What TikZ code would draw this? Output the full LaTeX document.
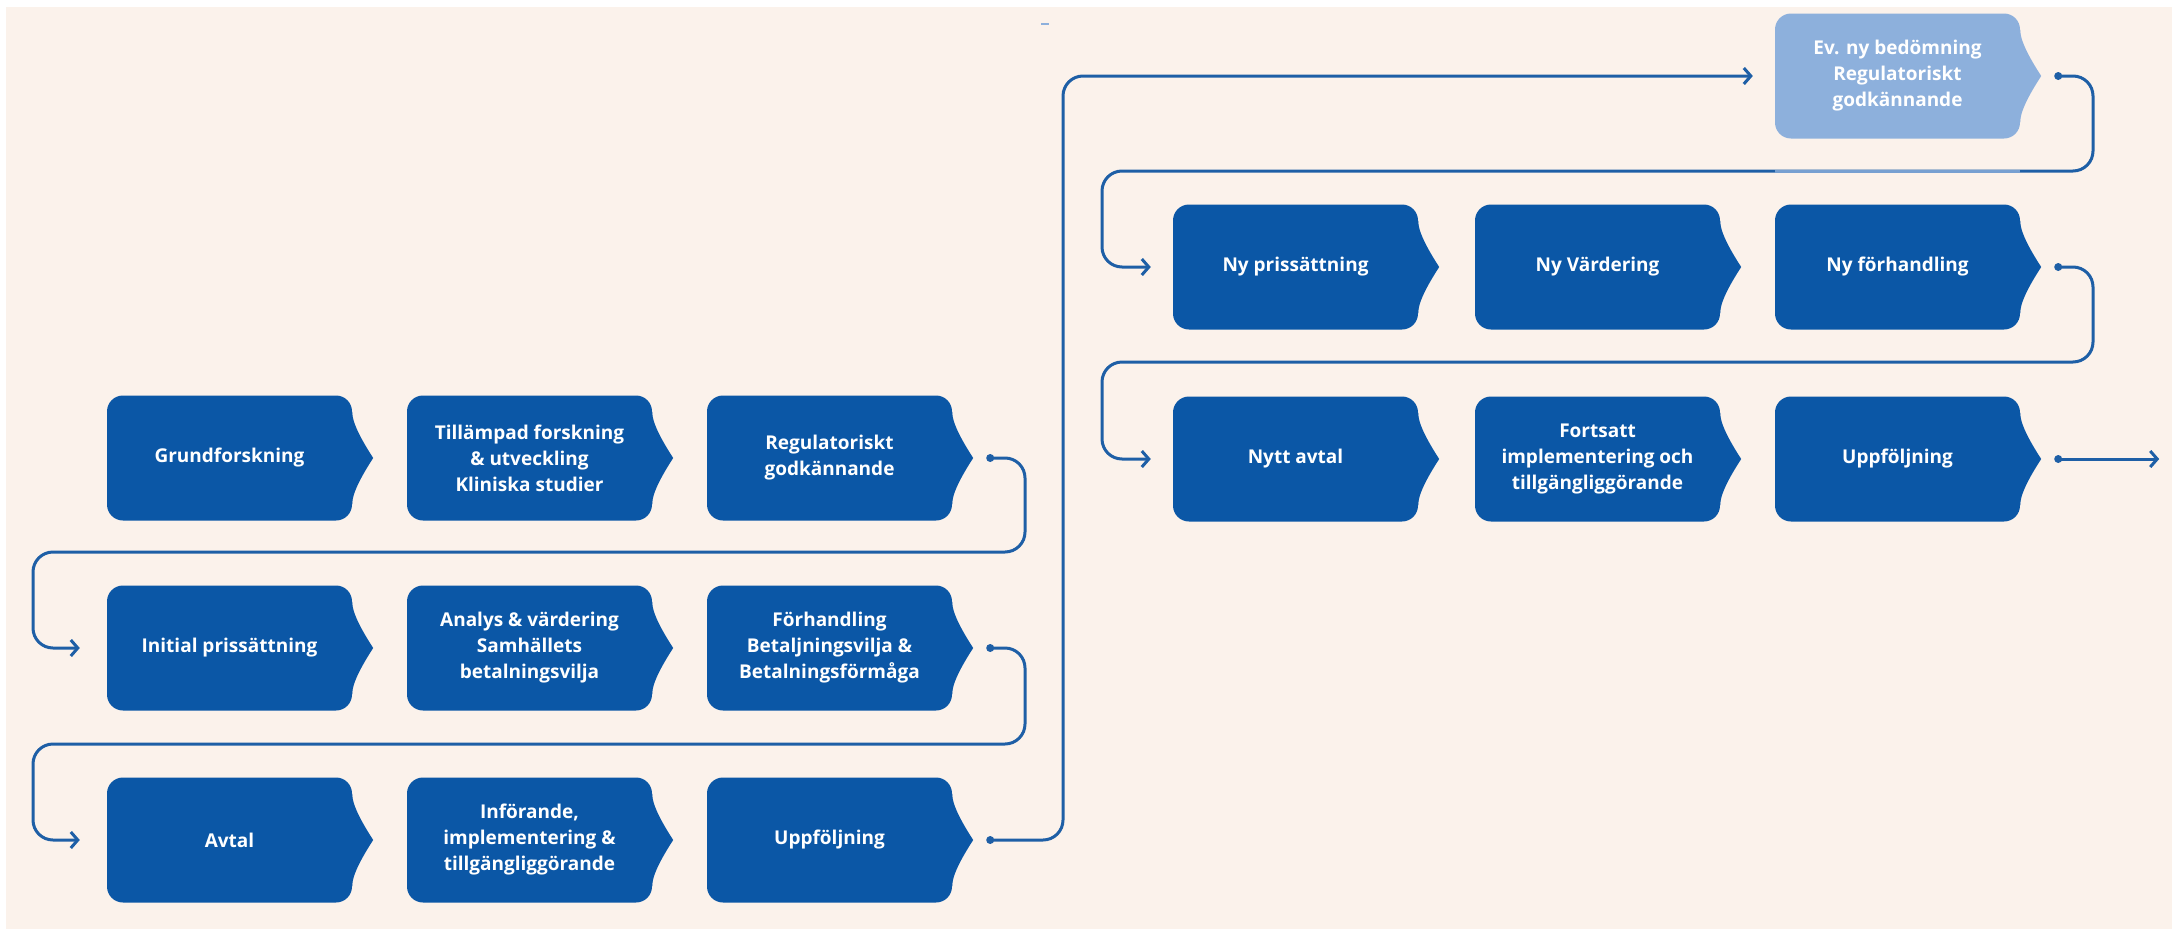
\documentclass[tikz,border=0pt]{standalone}
\usepackage{fontspec}
\setmainfont{Open Sans}
\usetikzlibrary{arrows.meta}
\definecolor{boxblue}{HTML}{0B57A6}
\definecolor{lightbox}{HTML}{8DB0DC}
\definecolor{lineblue}{HTML}{1E5FA6}
\definecolor{cream}{HTML}{FBF2EB}
\newcommand\tipof[2]{%
  \fill[#2] ([xshift=-4pt,yshift=46pt]#1.east) -- ([yshift=46pt]#1.east)
    .. controls ([yshift=36pt]#1.east) and ([xshift=8pt,yshift=20pt]#1.east) .. ([xshift=21pt]#1.east)
    .. controls ([xshift=8pt,yshift=-20pt]#1.east) and ([yshift=-36pt]#1.east) .. ([yshift=-46pt]#1.east)
    -- ([xshift=-4pt,yshift=-46pt]#1.east) -- cycle;}
\begin{document}
\begin{tikzpicture}[x=1pt,y=-1pt,
  bub/.style={fill=boxblue, rounded corners=16pt, minimum width=245pt, minimum height=125pt,
    text=white, font=\bfseries\fontsize{19}{26}\selectfont, align=center, inner sep=0pt},
  lbub/.style={bub, fill=lightbox},
  conn/.style={draw=lineblue, line width=3pt, rounded corners=20pt, line cap=round},
  arr/.style={-{Straight Barb[length=7pt,width=16pt]}},
  dot/.style={fill=lineblue}]
\fill[white] (0,0) rectangle (2172,929);
\fill[cream] (6,7) rectangle (2172,929);
\useasboundingbox (0,0) rectangle (2172,929);
\draw[lightbox, line width=2pt] (1041,24) -- (1049,24);

% left section
\node[bub] (a1) at (229.5,458) {Grundforskning};
\node[bub] (a2) at (529.5,458) {Tillämpad forskning\\\& utveckling\\Kliniska studier};
\node[bub] (a3) at (829.5,458) {Regulatoriskt\\godkännande};
\node[bub] (b1) at (229.5,648) {Initial prissättning};
\node[bub] (b2) at (529.5,648) {Analys \& värdering\\Samhällets\\betalningsvilja};
\node[bub] (b3) at (829.5,648) {Förhandling\\Betaljningsvilja \&\\Betalningsförmåga};
\node[bub] (c1) at (229.5,840) {Avtal};
\node[bub] (c2) at (529.5,840) {Införande,\\implementering \&\\tillgängliggörande};
\node[bub] (c3) at (829.5,840) {Uppföljning};
% right section
\node[lbub] (e1) at (1897.5,76) {Ev. ny bedömning\\Regulatoriskt\\godkännande};
\node[bub] (f1) at (1295.5,267) {Ny prissättning};
\node[bub] (f2) at (1597.5,267) {Ny Värdering};
\node[bub] (f3) at (1897.5,267) {Ny förhandling};
\node[bub] (g1) at (1295.5,459) {Nytt avtal};
\node[bub] (g2) at (1597.5,459) {Fortsatt\\implementering och\\tillgängliggörande};
\node[bub] (g3) at (1897.5,459) {Uppföljning};

\foreach \n in {a1,a2,a3,b1,b2,b3,c1,c2,c3,f1,f2,f3,g1,g2,g3}{\tipof{\n}{boxblue}}
\tipof{e1}{lightbox}

% connector start points
\foreach \n in {a3,b3,c3,e1,f3,g3}{\coordinate (\n o) at ([xshift=38pt]\n.east);}
% lanes
\coordinate (l1e) at (1025,552); \coordinate (l1w) at (33,552);
\coordinate (l2e) at (1025,744); \coordinate (l2w) at (33,744);
\coordinate (lt) at (1063,76);
\coordinate (l3e) at (2093,171); \coordinate (l3w) at (1102,171);
\coordinate (l4e) at (2093,362); \coordinate (l4w) at (1102,362);
\coordinate (fin) at ([xshift=101pt]g3o);

\draw[conn,arr] (a3o) -| (l1e) -- (l1w) |- ([xshift=-27pt]b1.west);
\draw[conn,arr] (b3o) -| (l2e) -- (l2w) |- ([xshift=-27pt]c1.west);
\draw[conn,arr] (c3o) -| (lt) -- ([xshift=-22pt]e1.west);
\draw[conn,arr] (e1o) -| (l3e) -- (l3w) |- ([xshift=-22pt]f1.west);
\draw[conn,arr] (f3o) -| (l4e) -- (l4w) |- ([xshift=-22pt]g1.west);
\draw[conn,arr] (g3o) -- (fin);
\draw[lightbox!80!lineblue, line width=3pt] (1775,171) -- (2020,171);

\foreach \n in {a3,b3,c3,e1,f3,g3}{\fill[dot] (\n o) circle (4pt);}
\end{tikzpicture}
\end{document}
